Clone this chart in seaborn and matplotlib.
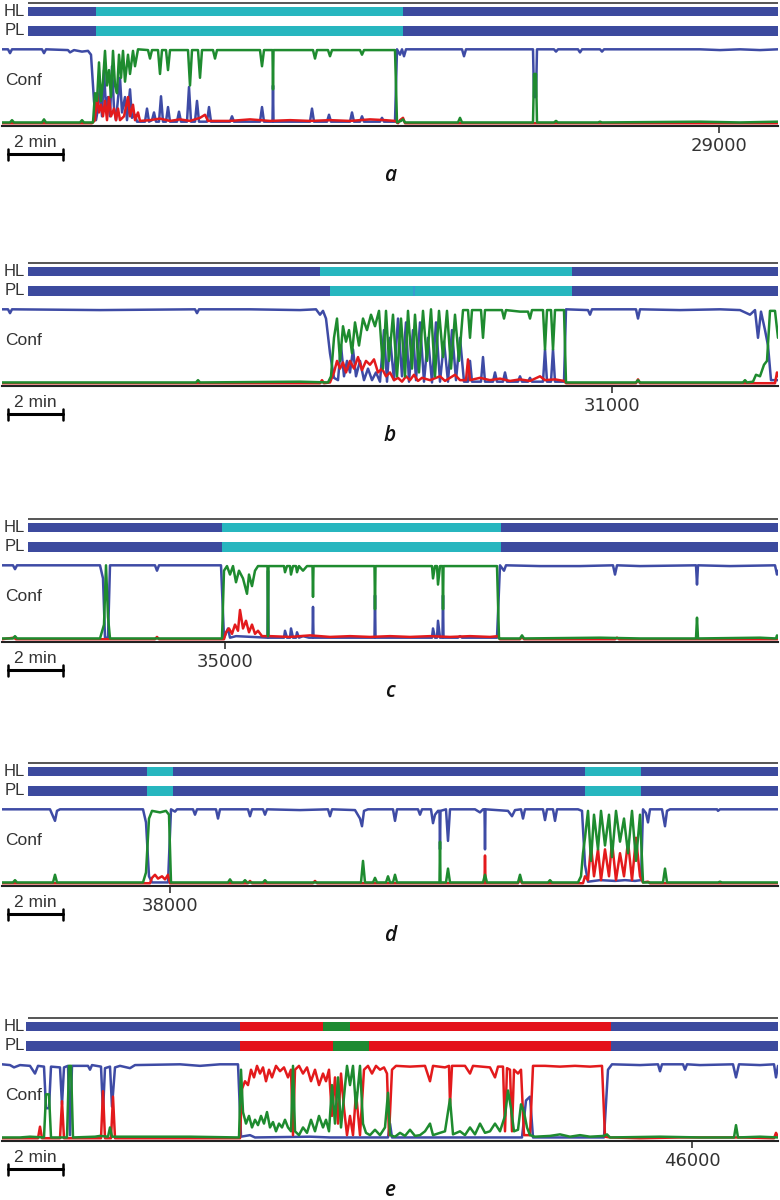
import matplotlib
matplotlib.use("Agg")
import matplotlib.pyplot as plt
import pandas as pd
import seaborn as sns

# one panel per recording excerpt; x in frames (55 frames = 2 min)
letters = ["a", "b", "c", "d", "e"]
tick_values = [29000, 31000, 35000, 38000, 46000]
panel_start = [28281, 30388, 34775, 37830, 45308]
scale_len = 55
bar_end = 778

# hypnogram segments: (start offset, class)
a_hl = [(28, "blue"), (96, "cyan"), (403, "blue")]
a_pl = [(28, "blue"), (96, "cyan"), (403, "blue")]
b_hl = [(28, "blue"), (320, "cyan"), (572, "blue")]
b_pl = [(28, "blue"), (330, "cyan"), (413, "mid"), (415, "cyan"), (572, "blue")]
c_hl = [(28, "blue"), (222, "cyan"), (501, "blue")]
c_pl = [(28, "blue"), (222, "cyan"), (501, "blue")]
d_hl = [(28, "blue"), (147, "cyan"), (173, "blue"), (585, "cyan"), (641, "blue")]
d_pl = [(28, "blue"), (147, "cyan"), (173, "blue"), (585, "cyan"), (641, "blue")]
e_hl = [(26, "blue"), (240, "red"), (323, "green"), (350, "red"), (611, "blue")]
e_pl = [(26, "blue"), (240, "red"), (333, "green"), (369, "red"), (611, "blue")]

# confidence traces: (offset, confidence)
a_blue = [(2,.97),(8,.97),(10,.92),(12,.97),(42,.97),(44,.92),(46,.97),(68,.96),(70,.93),(74,.96),(82,.94),(88,.95),(91,.9),(94,.3),(96,.05),(98,.2),(100,.5),(102,.1),(104,.7),(106,.2),(108,.35),(110,.1),(112,.75),(114,.2),(116,.05),(120,.6),(122,.15),(125,.35),(127,.05),(130,.45),(132,.08),(135,.12),(137,.03),(145,.03),(147,.2),(149,.03),(152,.05),(154,.15),(156,.03),(159,.03),(161,.36),(163,.03),(166,.03),(168,.22),(170,.03),(177,.03),(179,.16),(181,.03),(187,.03),(189,.48),(191,.03),(195,.03),(197,.3),(199,.03),(207,.03),(209,.22),(211,.03),(230,.03),(232,.1),(234,.03),(260,.03),(262,.22),(264,.03),(272.5,.03),(273,.5),(273.5,.03),(310,.03),(312,.2),(314,.03),(327,.03),(329,.12),(331,.03),(350,.03),(352,.15),(354,.03),(360,.03),(362,.1),(364,.03),(380,.03),(382,.08),(384,.03),(395,.03),(397,.97),(400,.9),(402,.97),(404,.88),(406,.97),(450,.97),(462,.97),(464,.88),(466,.97),(520,.97),(533,.97),(534,.35),(536,.35),(537,.97),(554,.97),(556,.94),(558,.97),(578,.97),(580,.93),(582,.97),(600,.97),(602,.94),(604,.97),(700,.97),(720,.96),(740,.97),(760,.96),(778,.97)]
a_red = [(2,.01),(92,.01),(95,.05),(97,.4),(99,.15),(101,.25),(103,.1),(105,.3),(107,.05),(109,.35),(111,.1),(114,.2),(116,.05),(118,.2),(120,.05),(124,.1),(128,.35),(130,.1),(133,.25),(135,.05),(138,.15),(140,.04),(150,.05),(160,.07),(170,.04),(180,.06),(190,.04),(200,.08),(205,.12),(208,.04),(230,.04),(250,.06),(270,.04),(290,.05),(310,.04),(330,.05),(350,.04),(370,.06),(385,.05),(395,.04),(398,.01),(400,.05),(403,.08),(405,.01),(778,.01)]
a_green = [(2,.02),(10,.02),(12,.05),(14,.02),(42,.02),(44,.06),(46,.02),(80,.02),(82,.05),(84,.02),(93,.02),(95,.4),(97,.3),(99,.8),(101,.3),(103,.55),(105,.95),(107,.5),(109,.7),(111,.35),(113,.95),(115,.5),(117,.4),(119,.9),(121,.6),(123,.95),(125,.55),(128,.9),(130,.65),(133,.95),(135,.75),(138,.97),(148,.96),(150,.85),(152,.96),(158,.96),(160,.65),(162,.96),(166,.96),(168,.7),(170,.96),(188,.96),(190,.5),(192,.96),(198,.96),(200,.6),(202,.96),(213,.96),(215,.85),(217,.96),(260,.96),(262,.75),(264,.96),(272.5,.96),(273,.45),(273.5,.96),(313,.96),(315,.85),(317,.96),(328,.96),(330,.88),(332,.96),(360,.96),(362,.9),(364,.96),(395,.96),(397,.02),(401,.04),(403,.06),(405,.02),(458,.02),(460,.08),(462,.02),(533,.02),(534,.65),(536,.65),(537,.02),(554,.02),(556,.04),(558,.02),(598,.02),(600,.03),(602,.02),(700,.03),(740,.02),(778,.03)]

b_blue = [(2,.97),(8,.97),(10,.92),(12,.97),(100,.96),(195,.97),(197,.92),(199,.97),(250,.97),(300,.96),(316,.97),(320,.9),(323,.95),(326,.85),(330,.4),(334,.08),(338,.05),(341,.5),(344,.1),(347,.3),(350,.15),(353,.45),(356,.1),(360,.3),(364,.05),(368,.2),(372,.05),(376,.15),(380,.03),(384,.7),(387,.03),(390,.6),(394,.05),(398,.85),(402,.1),(406,.8),(409,.03),(413,.7),(416,.05),(420,.8),(424,.03),(428,.6),(432,.02),(436,.8),(440,.03),(444,.55),(448,.03),(452,.7),(456,.05),(460,.6),(464,.03),(468,.03),(470,.3),(472,.03),(481,.03),(483,.35),(485,.03),(493,.03),(495,.15),(497,.03),(503,.03),(505,.15),(507,.03),(518,.03),(520,.1),(522,.03),(528,.03),(530,.08),(532,.03),(543,.03),(545,.45),(547,.03),(551,.03),(553,.45),(555,.03),(564,.03),(566,.97),(588,.96),(590,.9),(592,.97),(636,.97),(638,.85),(640,.97),(680,.96),(720,.97),(740,.96),(750,.9),(755,.96),(758,.6),(761,.94),(765,.7),(768,.5),(771,.05),(778,.05)]
b_red = [(2,.01),(320,.01),(322,.05),(324,.01),(330,.02),(334,.15),(337,.3),(340,.2),(343,.28),(346,.15),(350,.3),(354,.2),(358,.35),(362,.18),(366,.3),(370,.25),(374,.32),(378,.15),(382,.2),(386,.1),(390,.15),(394,.05),(398,.08),(402,.03),(406,.1),(410,.05),(414,.12),(418,.04),(422,.08),(430,.05),(440,.1),(445,.04),(455,.12),(460,.05),(466,.05),(468,.32),(470,.05),(480,.08),(490,.05),(500,.07),(510,.04),(520,.06),(530,.04),(540,.1),(545,.05),(555,.06),(564,.04),(566,.01),(636,.01),(638,.06),(640,.01),(775,.01),(777,.15),(778,.1)]
b_green = [(2,.02),(196,.02),(198,.05),(200,.02),(300,.03),(328,.02),(331,.1),(334,.6),(337,.85),(340,.3),(343,.75),(346,.55),(349,.7),(352,.4),(355,.8),(359,.5),(363,.85),(367,.7),(371,.9),(375,.75),(379,.95),(383,.2),(386,.95),(389,.3),(393,.9),(397,.1),(401,.85),(405,.1),(408,.95),(412,.2),(415,.9),(419,.15),(423,.95),(427,.3),(431,.97),(435,.1),(439,.95),(443,.35),(447,.95),(451,.2),(455,.9),(459,.3),(463,.96),(468,.96),(470,.6),(472,.96),(481,.96),(483,.6),(485,.96),(502,.96),(504,.85),(506,.96),(520,.94),(528,.94),(530,.85),(532,.96),(543,.96),(545,.45),(547,.96),(551,.96),(553,.45),(555,.96),(564,.96),(566,.02),(636,.02),(638,.05),(640,.02),(743,.02),(745,.05),(747,.02),(753,.03),(756,.12),(760,.1),(764,.25),(767,.3),(770,.95),(775,.95),(778,.6)]

c_blue = [(2,.97),(13,.97),(15,.92),(17,.97),(100,.97),(103,.8),(105,.03),(108,.03),(110,.97),(155,.97),(157,.9),(159,.97),(221,.97),(224,.03),(228,.15),(230,.03),(236,.05),(267.5,.03),(268,.9),(268.5,.03),(284,.03),(285,.12),(287,.03),(290,.03),(291,.15),(293,.03),(296,.03),(297,.1),(299,.03),(303,.05),(309,.03),(312.5,.03),(313,.43),(313.5,.03),(374.5,.03),(375,.58),(375.5,.03),(432,.03),(433,.15),(435,.03),(437,.03),(438,.25),(440,.03),(442.5,.03),(443,.58),(443.5,.03),(458,.03),(460,.05),(462,.03),(497,.03),(500,.97),(504,.9),(506,.97),(540,.96),(580,.96),(613,.97),(615,.85),(617,.97),(640,.96),(696,.97),(697,.72),(698,.97),(730,.96),(775,.97),(777,.85),(778,.9)]
c_red = [(2,.01),(14,.03),(16,.01),(155,.01),(157,.04),(159,.01),(224,.01),(226,.1),(229,.15),(232,.08),(235,.2),(238,.12),(240,.39),(243,.15),(246,.25),(249,.1),(252,.2),(255,.08),(258,.12),(262,.05),(270,.05),(290,.04),(310,.06),(330,.04),(350,.05),(370,.04),(390,.05),(410,.04),(430,.05),(450,.04),(470,.05),(490,.04),(498,.05),(500,.01),(520,.01),(522,.04),(524,.01),(615,.01),(617,.03),(619,.01),(778,.01)]
c_green = [(2,.02),(13,.02),(15,.05),(17,.02),(100,.02),(104,.2),(106,.97),(108,.3),(110,.02),(222,.02),(224,.9),(227,.96),(230,.85),(233,.96),(236,.75),(239,.9),(243,.8),(247,.6),(249,.85),(252,.7),(255,.9),(258,.96),(267.5,.96),(268,.05),(268.5,.96),(284,.96),(285,.88),(287,.96),(290,.96),(291,.85),(293,.96),(296,.96),(297,.88),(299,.96),(303,.9),(307,.96),(312.5,.96),(313,.56),(313.5,.96),(374.5,.96),(375,.4),(375.5,.96),(432,.96),(433,.8),(435,.96),(437,.96),(438,.72),(440,.96),(442.5,.96),(443,.4),(443.5,.96),(497,.96),(499,.02),(520,.02),(522,.06),(524,.02),(600,.03),(640,.02),(696,.02),(697,.29),(698,.02),(760,.03),(776,.02),(777,.06),(778,.03)]

d_blue = [(2,.97),(50,.97),(53,.88),(55,.82),(57,.95),(60,.97),(143,.97),(146,.8),(149,.1),(152,.02),(168,.02),(171,.97),(175,.94),(177,.97),(193,.97),(195,.9),(197,.97),(216,.97),(218,.85),(220,.97),(248,.97),(250,.88),(252,.97),(263,.97),(265,.9),(267,.97),(300,.96),(328,.97),(330,.88),(332,.97),(355,.96),(360,.85),(362,.75),(364,.95),(368,.97),(393,.97),(395,.82),(397,.97),(418,.97),(420,.9),(422,.97),(431,.97),(433,.79),(435,.9),(438,.95),(439.5,.95),(440,.45),(440.5,.95),(446,.97),(448,.56),(450,.97),(475,.97),(480,.93),(483,.97),(484.5,.97),(485,.45),(485.5,.97),(508,.95),(512,.88),(515,.96),(521,.97),(523,.85),(525,.97),(543,.97),(545,.83),(547,.97),(553,.97),(555,.82),(557,.97),(578,.97),(582,.95),(585,.25),(588,.03),(600,.05),(615,.04),(625,.05),(635,.04),(641,.05),(643,.97),(646,.92),(648,.8),(650,.97),(662,.97),(665,.75),(667,.95),(670,.97),(717,.97),(718,.95),(720,.97),(778,.97)]
d_red = [(2,.01),(150,.01),(152,.08),(155,.12),(158,.07),(162,.1),(165,.06),(168,.12),(170,.01),(248,.01),(250,.04),(252,.01),(313,.01),(315,.04),(317,.01),(484.5,.01),(485,.37),(485.5,.01),(518,.01),(520,.06),(522,.01),(583,.01),(585,.1),(588,.05),(591,.5),(594,.1),(598,.45),(601,.05),(605,.45),(609,.1),(612,.55),(616,.05),(620,.4),(624,.1),(628,.55),(632,.05),(636,.6),(640,.1),(643,.02),(648,.03),(650,.01),(778,.01)]
d_green = [(2,.02),(13,.02),(15,.05),(17,.02),(53,.02),(55,.12),(57,.02),(143,.02),(146,.15),(149,.85),(152,.95),(160,.93),(166,.95),(169,.9),(171,.02),(228,.02),(230,.06),(232,.02),(243,.02),(245,.05),(247,.02),(263,.02),(265,.05),(267,.02),(361,.02),(363,.3),(365,.02),(373,.02),(375,.08),(377,.02),(386,.02),(388,.1),(390,.02),(393,.02),(395,.12),(397,.02),(439.5,.02),(440,.55),(440.5,.02),(446,.02),(448,.2),(450,.02),(483,.02),(485,.12),(487,.02),(518,.02),(520,.12),(522,.02),(548,.02),(550,.05),(552,.02),(578,.02),(581,.1),(583,.4),(585,.6),(588,.95),(591,.3),(594,.9),(598,.45),(601,.95),(605,.5),(609,.9),(612,.35),(616,.95),(620,.55),(624,.85),(628,.4),(632,.95),(636,.3),(640,.9),(643,.02),(663,.02),(665,.2),(667,.02),(718,.02),(720,.03),(722,.02),(778,.02)]

e_blue = [(2,.97),(10,.96),(14,.93),(20,.96),(30,.95),(35,.85),(38,.95),(44,.94),(46,.4),(49,.4),(51,.94),(60,.93),(62,.45),(64,.93),(68,.95),(70,.05),(72,.95),(88,.95),(90,.9),(92,.96),(101,.94),(103,.35),(105,.92),(110,.94),(112,.42),(115,.93),(120,.95),(130,.92),(135,.96),(180,.97),(200,.95),(220,.97),(238,.97),(241,.03),(250,.05),(255,.02),(310,.03),(330,.02),(388,.02),(390,.2),(392,.02),(522,.02),(526,.5),(530,.55),(533,.02),(604,.02),(608,.9),(612,.97),(640,.96),(658,.97),(660,.88),(662,.97),(683,.97),(685,.9),(687,.97),(700,.96),(733,.97),(736,.8),(739,.97),(760,.96),(774,.97),(776,.8),(778,.95)]
e_red = [(2,.01),(38,.01),(40,.16),(42,.01),(60,.01),(62,.49),(64,.01),(101,.01),(103,.62),(105,.01),(111,.01),(113,.55),(115,.01),(240,.01),(242,.65),(245,.75),(248,.7),(251,.9),(254,.8),(257,.95),(260,.85),(263,.93),(266,.75),(269,.9),(272,.8),(276,.95),(280,.88),(284,.93),(288,.8),(291,.9),(293,.05),(295,.9),(299,.95),(303,.85),(307,.93),(311,.75),(315,.9),(319,.7),(323,.85),(326,.75),(329,.9),(332,.3),(335,.8),(338,.2),(341,.85),(344,.4),(347,.05),(350,.3),(353,.05),(356,.6),(360,.05),(364,.9),(368,.95),(372,.85),(376,.95),(380,.9),(384,.93),(387,.85),(389,.05),(392,.9),(396,.95),(410,.94),(425,.95),(430,.75),(433,.95),(445,.93),(449,.95),(450,.45),(452,.95),(465,.95),(470,.85),(473,.95),(490,.93),(495,.8),(498,.94),(503,.94),(505,.1),(507,.92),(510,.9),(512,.1),(514,.9),(518,.85),(521,.9),(524,.05),(530,.05),(533,.95),(545,.95),(560,.94),(575,.95),(590,.94),(602,.95),(605,.03),(610,.02),(640,.01),(680,.02),(740,.02),(774,.01),(776,.08),(778,.03)]
e_green = [(2,.02),(20,.02),(30,.03),(44,.02),(46,.58),(49,.58),(51,.02),(67,.02),(69,.95),(71,.95),(73,.02),(95,.03),(100,.04),(108,.03),(110,.15),(112,.03),(130,.03),(190,.03),(239,.02),(241,.9),(243,.35),(246,.2),(249,.3),(252,.15),(255,.25),(258,.18),(261,.3),(264,.2),(267,.35),(270,.15),(273,.22),(276,.1),(279,.2),(282,.15),(285,.25),(288,.15),(291,.1),(293,.95),(295,.1),(299,.05),(303,.15),(307,.08),(311,.25),(315,.1),(319,.3),(323,.15),(326,.25),(329,.1),(332,.7),(335,.2),(338,.8),(341,.15),(344,.55),(347,.95),(350,.7),(353,.95),(356,.4),(360,.95),(363,.2),(366,.08),(370,.05),(375,.12),(380,.05),(385,.15),(388,.6),(390,.05),(395,.03),(400,.08),(405,.04),(410,.12),(415,.04),(420,.05),(425,.1),(430,.2),(433,.05),(440,.08),(445,.1),(450,.52),(453,.06),(460,.1),(465,.05),(470,.15),(475,.06),(480,.2),(485,.08),(490,.1),(495,.2),(500,.1),(505,.3),(508,.63),(511,.4),(514,.1),(518,.12),(521,.45),(524,.35),(527,.15),(530,.05),(535,.03),(550,.04),(560,.06),(570,.03),(580,.05),(590,.03),(604,.04),(607,.06),(610,.02),(660,.03),(700,.02),(734,.02),(736,.18),(738,.02),(760,.03),(778,.02)]

hl_segments = [a_hl, b_hl, c_hl, d_hl, e_hl]
pl_segments = [a_pl, b_pl, c_pl, d_pl, e_pl]
traces = [
    {"blue": a_blue, "red": a_red, "green": a_green},
    {"blue": b_blue, "red": b_red, "green": b_green},
    {"blue": c_blue, "red": c_red, "green": c_green},
    {"blue": d_blue, "red": d_red, "green": d_green},
    {"blue": e_blue, "red": e_red, "green": e_green},
]

bar_colors = {"blue": "#3c4a9e", "cyan": "#27b6bf", "red": "#e4121b",
              "green": "#1e8a32", "mid": "#3a9ad0"}
line_colors = {"blue": "#3e4ba5", "red": "#e31a1c", "green": "#1e8b2f"}
text_color = "#333333"

sns.set_style("white")
plt.rcParams["font.family"] = ["Liberation Sans", "DejaVu Sans"]

W, H = 780, 1200
fig = plt.figure(figsize=(7.8, 12), dpi=100)
tops = [0, 260, 516, 760, 1015]


def box(x0, y0, x1, y1):
    return [x0 / W, 1 - y1 / H, (x1 - x0) / W, (y1 - y0) / H]


for i in range(5):
    T = tops[i]
    s = panel_start[i]

    # HL / PL hypnogram bars
    axb = fig.add_axes(box(2, T + 2, 778, T + 37))
    for row, segs in enumerate([hl_segments[i], pl_segments[i]]):
        starts = [p for p, _ in segs]
        ends = starts[1:] + [bar_end]
        axb.barh([row] * len(segs), [e - b for b, e in zip(starts, ends)],
                 left=[s + b for b in starts], height=0.52,
                 color=[bar_colors[c] for _, c in segs], linewidth=0)
    axb.hlines(-0.42, s + 28, s + 778, color="#555555", lw=1.4)
    axb.set_xlim(s + 2, s + 778)
    axb.set_ylim(1.328, -0.495)
    axb.axis("off")
    axb.text(s + 25, 0, "HL", ha="right", va="center", fontsize=12, color=text_color)
    axb.text(s + 25, 1, "PL", ha="right", va="center", fontsize=12, color=text_color)

    # confidence traces
    ax = fig.add_axes(box(2, T + 45, 778, T + 125.5))
    rows = []
    for cls in ["blue", "red", "green"]:
        for off, v in traces[i][cls]:
            rows.append({"t": s + off, "conf": v, "cls": cls})
    df = pd.DataFrame(rows)
    sns.lineplot(data=df, x="t", y="conf", hue="cls", hue_order=["blue", "red", "green"],
                 palette=line_colors, estimator=None, sort=False, legend=False,
                 lw=1.8, ax=ax)
    ax.set_xlim(s + 2, s + 778)
    ax.set_ylim(-0.0195, 1.026)
    ax.set_xlabel("")
    ax.set_ylabel("")
    ax.set_yticks([])
    ax.set_xticks([tick_values[i]])
    ax.set_xticklabels([str(tick_values[i])], fontfamily="DejaVu Sans")
    ax.tick_params(axis="x", bottom=True, length=5, width=1.2, color=text_color,
                   labelsize=13, labelcolor=text_color, pad=3)
    for side in ["top", "left", "right"]:
        ax.spines[side].set_visible(False)
    ax.spines["bottom"].set_color("#222222")
    ax.spines["bottom"].set_linewidth(1.5)
    ax.patch.set_alpha(0)
    ax.text(s + 5, 0.57, "Conf", ha="left", va="center", fontsize=12.5, color=text_color)

    # 2 min scale bar
    x0, x1 = s + 8, s + 8 + scale_len
    ax.plot([x0, x1], [-0.39, -0.39], color="black", lw=2.2, clip_on=False)
    ax.plot([x0, x0], [-0.325, -0.468], color="black", lw=1.8, clip_on=False)
    ax.plot([x1, x1], [-0.325, -0.468], color="black", lw=1.8, clip_on=False)
    ax.text((x0 + x1) / 2, -0.234, "2 min", ha="center", va="center",
            fontsize=12.5, color=text_color)

    ax.text(s + 390, -0.665, letters[i], ha="center", va="center", fontsize=15,
            fontstyle="italic", fontweight="semibold", fontfamily="Open Sans",
            color="#111111")

fig.savefig("out.png", dpi=100)
